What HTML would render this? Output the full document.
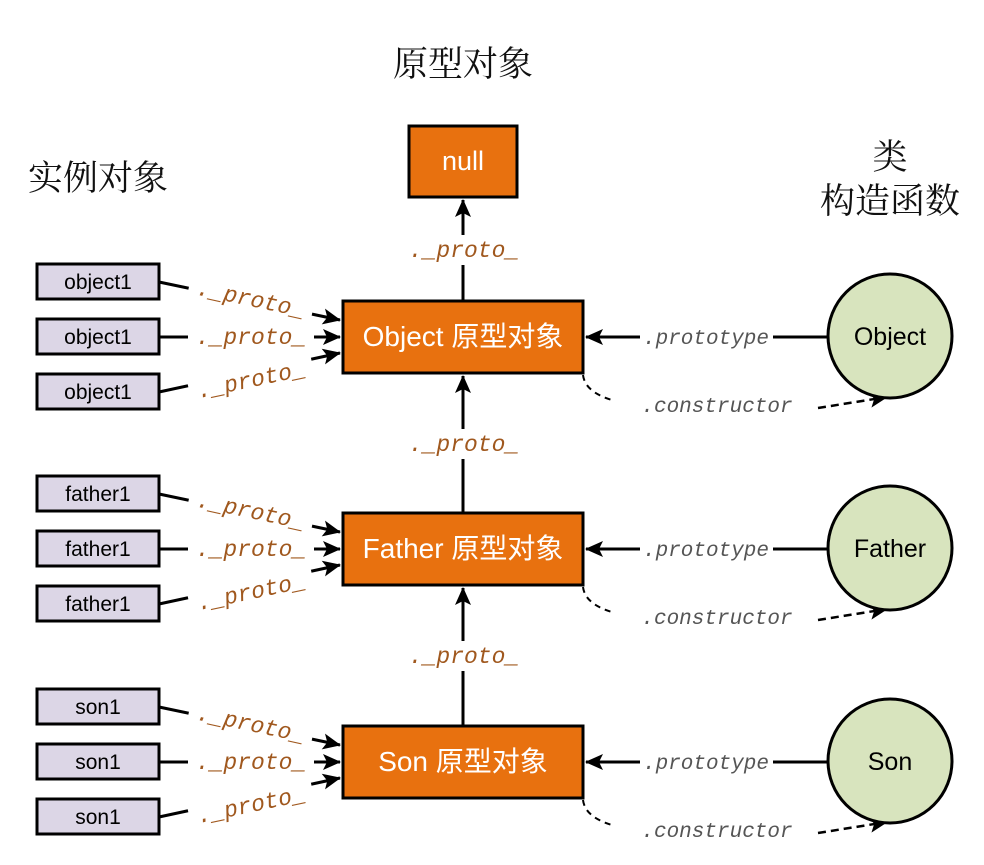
<!DOCTYPE html>
<html><head><meta charset="utf-8"><style>
html,body{margin:0;padding:0;background:#fff;}
svg{display:block}
.t{font-family:"Liberation Sans","Noto Sans CJK SC",sans-serif;}
.cj{font-family:"Liberation Serif","Noto Serif CJK SC",serif;font-size:35px;fill:#111}
.pr{font-family:"Liberation Mono",monospace;font-style:italic;font-size:23px;fill:#A0581E}
.gr{font-family:"Liberation Mono",monospace;font-style:italic;font-size:21px;fill:#555}
</style></head><body>
<svg width="984" height="865" viewBox="0 0 984 865" xmlns="http://www.w3.org/2000/svg">
<defs>
<marker id="b" markerWidth="18" markerHeight="16" refX="17" refY="8" orient="auto" markerUnits="userSpaceOnUse"><path d="M0,0 L18,8 L0,16 L4,8 z" fill="#000"/></marker>
</defs>
<text class="cj" x="463" y="76" text-anchor="middle">原型对象</text>
<text class="cj" x="98" y="190" text-anchor="middle">实例对象</text>
<text class="cj" x="890" y="169" text-anchor="middle">类</text>
<text class="cj" x="890" y="213" text-anchor="middle">构造函数</text>

<rect x="409" y="126" width="108" height="71" fill="#E8710F" stroke="#000" stroke-width="3"/>
<text class="t" x="463" y="170" text-anchor="middle" font-size="27" fill="#fff">null</text>

<g stroke="#000" stroke-width="3">
<line x1="463" y1="300" x2="463" y2="200" marker-end="url(#b)"/>
<line x1="463" y1="512" x2="463" y2="376" marker-end="url(#b)"/>
<line x1="463" y1="725" x2="463" y2="588" marker-end="url(#b)"/>
</g>
<rect x="402" y="235" width="124" height="30" fill="#fff"/>
<rect x="402" y="429" width="124" height="30" fill="#fff"/>
<rect x="402" y="641" width="124" height="30" fill="#fff"/>
<text class="pr" x="464" y="257" text-anchor="middle">._proto_</text>
<text class="pr" x="464" y="451" text-anchor="middle">._proto_</text>
<text class="pr" x="464" y="663" text-anchor="middle">._proto_</text>

<g transform="translate(0,0)">
<g stroke="#000" stroke-width="3">
<line x1="159" y1="282" x2="340" y2="320" marker-end="url(#b)"/>
<line x1="159" y1="337" x2="340" y2="337" marker-end="url(#b)"/>
<line x1="159" y1="392" x2="340" y2="353" marker-end="url(#b)"/>
<line x1="828" y1="337" x2="586" y2="337" marker-end="url(#b)"/>
<path d="M583,375 Q585,392 612,400" fill="none" stroke-width="2" stroke-dasharray="6,5"/>
<line x1="818" y1="408" x2="887" y2="397" stroke-width="2.5" stroke-dasharray="8,5" marker-end="url(#b)"/>
</g>
<rect x="188" y="283" width="126" height="28" fill="#fff" transform="rotate(12 251 298)"/>
<rect x="188" y="323" width="126" height="27" fill="#fff"/>
<rect x="188" y="366" width="126" height="28" fill="#fff" transform="rotate(-12 251 379)"/>
<text class="pr" x="251" y="306" text-anchor="middle" transform="rotate(12 251 298)">._proto_</text>
<text class="pr" x="251" y="344" text-anchor="middle">._proto_</text>
<text class="pr" x="251" y="387" text-anchor="middle" transform="rotate(-12 251 379)">._proto_</text>
<rect x="640" y="324" width="133" height="26" fill="#fff"/>
<text class="gr" x="706" y="344" text-anchor="middle">.prototype</text>
<text class="gr" x="717" y="412" text-anchor="middle">.constructor</text>
<rect x="37" y="264" width="122" height="35" fill="#DCD6E6" stroke="#000" stroke-width="3"/>
<rect x="37" y="319" width="122" height="35" fill="#DCD6E6" stroke="#000" stroke-width="3"/>
<rect x="37" y="374" width="122" height="35" fill="#DCD6E6" stroke="#000" stroke-width="3"/>
</g>
<g transform="translate(0,212)">
<g stroke="#000" stroke-width="3">
<line x1="159" y1="282" x2="340" y2="320" marker-end="url(#b)"/>
<line x1="159" y1="337" x2="340" y2="337" marker-end="url(#b)"/>
<line x1="159" y1="392" x2="340" y2="353" marker-end="url(#b)"/>
<line x1="828" y1="337" x2="586" y2="337" marker-end="url(#b)"/>
<path d="M583,375 Q585,392 612,400" fill="none" stroke-width="2" stroke-dasharray="6,5"/>
<line x1="818" y1="408" x2="887" y2="397" stroke-width="2.5" stroke-dasharray="8,5" marker-end="url(#b)"/>
</g>
<rect x="188" y="283" width="126" height="28" fill="#fff" transform="rotate(12 251 298)"/>
<rect x="188" y="323" width="126" height="27" fill="#fff"/>
<rect x="188" y="366" width="126" height="28" fill="#fff" transform="rotate(-12 251 379)"/>
<text class="pr" x="251" y="306" text-anchor="middle" transform="rotate(12 251 298)">._proto_</text>
<text class="pr" x="251" y="344" text-anchor="middle">._proto_</text>
<text class="pr" x="251" y="387" text-anchor="middle" transform="rotate(-12 251 379)">._proto_</text>
<rect x="640" y="324" width="133" height="26" fill="#fff"/>
<text class="gr" x="706" y="344" text-anchor="middle">.prototype</text>
<text class="gr" x="717" y="412" text-anchor="middle">.constructor</text>
<rect x="37" y="264" width="122" height="35" fill="#DCD6E6" stroke="#000" stroke-width="3"/>
<rect x="37" y="319" width="122" height="35" fill="#DCD6E6" stroke="#000" stroke-width="3"/>
<rect x="37" y="374" width="122" height="35" fill="#DCD6E6" stroke="#000" stroke-width="3"/>
</g>
<g transform="translate(0,425)">
<g stroke="#000" stroke-width="3">
<line x1="159" y1="282" x2="340" y2="320" marker-end="url(#b)"/>
<line x1="159" y1="337" x2="340" y2="337" marker-end="url(#b)"/>
<line x1="159" y1="392" x2="340" y2="353" marker-end="url(#b)"/>
<line x1="828" y1="337" x2="586" y2="337" marker-end="url(#b)"/>
<path d="M583,375 Q585,392 612,400" fill="none" stroke-width="2" stroke-dasharray="6,5"/>
<line x1="818" y1="408" x2="887" y2="397" stroke-width="2.5" stroke-dasharray="8,5" marker-end="url(#b)"/>
</g>
<rect x="188" y="283" width="126" height="28" fill="#fff" transform="rotate(12 251 298)"/>
<rect x="188" y="323" width="126" height="27" fill="#fff"/>
<rect x="188" y="366" width="126" height="28" fill="#fff" transform="rotate(-12 251 379)"/>
<text class="pr" x="251" y="306" text-anchor="middle" transform="rotate(12 251 298)">._proto_</text>
<text class="pr" x="251" y="344" text-anchor="middle">._proto_</text>
<text class="pr" x="251" y="387" text-anchor="middle" transform="rotate(-12 251 379)">._proto_</text>
<rect x="640" y="324" width="133" height="26" fill="#fff"/>
<text class="gr" x="706" y="344" text-anchor="middle">.prototype</text>
<text class="gr" x="717" y="412" text-anchor="middle">.constructor</text>
<rect x="37" y="264" width="122" height="35" fill="#DCD6E6" stroke="#000" stroke-width="3"/>
<rect x="37" y="319" width="122" height="35" fill="#DCD6E6" stroke="#000" stroke-width="3"/>
<rect x="37" y="374" width="122" height="35" fill="#DCD6E6" stroke="#000" stroke-width="3"/>
</g>

<g class="t" font-size="21" fill="#000" text-anchor="middle">
<text x="98" y="289">object1</text><text x="98" y="344">object1</text><text x="98" y="399">object1</text>
<text x="98" y="501">father1</text><text x="98" y="556">father1</text><text x="98" y="611">father1</text>
<text x="98" y="714">son1</text><text x="98" y="769">son1</text><text x="98" y="824">son1</text>
</g>

<g fill="#E8710F" stroke="#000" stroke-width="3">
<rect x="343" y="301" width="240" height="72"/>
<rect x="343" y="513" width="240" height="72"/>
<rect x="343" y="726" width="240" height="72"/>
</g>
<g class="t" font-size="28" fill="#fff" text-anchor="middle">
<text x="463" y="346">Object 原型对象</text>
<text x="463" y="558">Father 原型对象</text>
<text x="463" y="771">Son 原型对象</text>
</g>

<g fill="#D8E4BE" stroke="#000" stroke-width="3">
<circle cx="890" cy="336" r="62"/>
<circle cx="890" cy="548" r="62"/>
<circle cx="890" cy="761" r="62"/>
</g>
<g class="t" font-size="25" fill="#000" text-anchor="middle">
<text x="890" y="345">Object</text>
<text x="890" y="557">Father</text>
<text x="890" y="770">Son</text>
</g>
</svg>
</body></html>
